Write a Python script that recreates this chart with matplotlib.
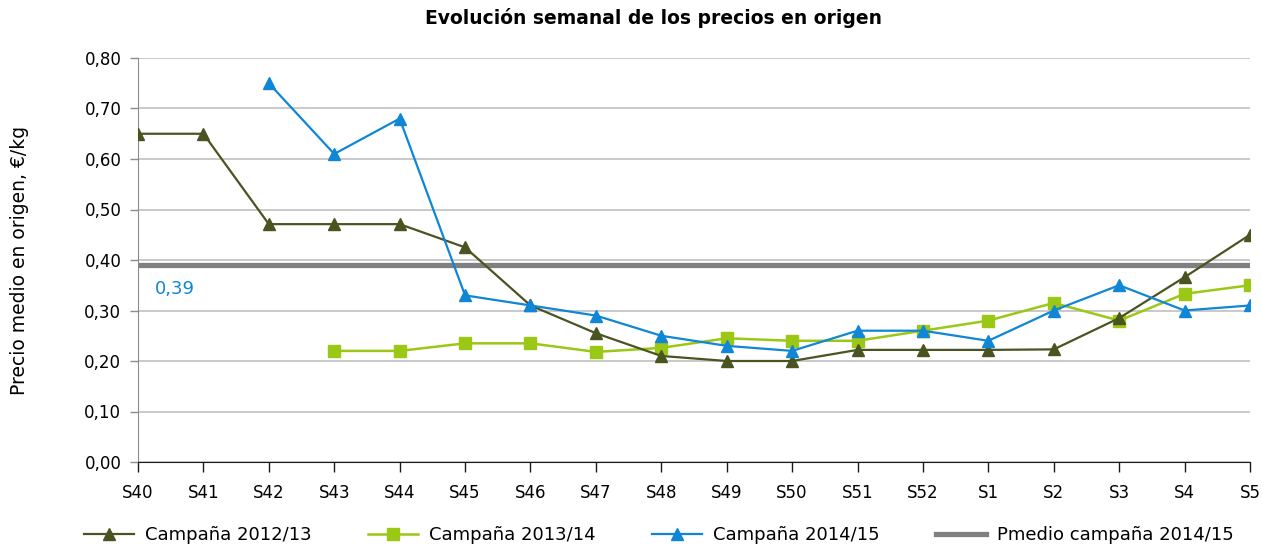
import matplotlib
matplotlib.use("Agg")
import matplotlib.pyplot as plt
import numpy as np

weeks = ["S40", "S41", "S42", "S43", "S44", "S45", "S46", "S47", "S48", "S49",
         "S50", "S51", "S52", "S1", "S2", "S3", "S4", "S5"]
c2012 = [0.65, 0.65, 0.471, 0.471, 0.471, 0.425, 0.31, 0.255, 0.21, 0.20,
         0.20, 0.222, 0.222, 0.222, 0.223, 0.285, 0.366, 0.45]
c2013 = [None, None, None, 0.22, 0.22, 0.235, 0.235, 0.218, 0.226, 0.245,
         0.24, 0.24, 0.26, 0.28, 0.315, 0.28, 0.333, 0.35]
c2014 = [None, None, 0.75, 0.61, 0.68, 0.33, 0.31, 0.29, 0.25, 0.23,
         0.22, 0.26, 0.26, 0.24, 0.30, 0.35, 0.30, 0.31]
mean_2014 = 0.39
mean_label = "0,39"

OLIVE, LIME, BLUE, GREY = "#4a5421", "#9bc814", "#0f86d6", "#808080"

plt.rcParams.update({"font.family": ["DejaVu Sans"], "font.size": 12})

fig = plt.figure(figsize=(12.62, 5.47), dpi=100)
ax = fig.add_axes([138 / 1262, 85 / 547, 1112 / 1262, 404 / 547])

x = np.arange(len(weeks))


def arr(v):
    return np.array([np.nan if a is None else a for a in v], dtype=float)


ax.plot(x, arr(c2012), color=OLIVE, lw=1.6, marker="^", ms=9, zorder=4,
        label="Campaña 2012/13")
ax.plot(x, arr(c2013), color=LIME, lw=1.8, marker="s", ms=9, zorder=3,
        label="Campaña 2013/14")
ax.plot(x, arr(c2014), color=BLUE, lw=1.6, marker="^", ms=9, zorder=5,
        label="Campaña 2014/15")
ax.plot(x, np.full(len(weeks), mean_2014), color=GREY, lw=3.8, zorder=2,
        label="Pmedio campaña 2014/15")
ax.text(0.26, 0.343, mean_label, color=BLUE, fontsize=13, va="center", ha="left")

ax.set_xlim(0, len(weeks) - 1)
ax.set_ylim(0, 0.8)
ax.set_xticks(x)
ax.set_xticklabels(weeks)
ax.set_yticks(np.arange(0, 0.81, 0.1))
ax.set_yticklabels([f"{v:.2f}".replace(".", ",") for v in np.arange(0, 0.81, 0.1)])
ax.yaxis.grid(True, color="#c0c0c0", lw=1.2, zorder=0)
ax.set_axisbelow(True)
for s in ("top", "right"):
    ax.spines[s].set_visible(False)
ax.spines["left"].set_color("#8c8c8c")
ax.spines["bottom"].set_color("#1a1a1a")
ax.tick_params(axis="x", length=7, width=1, color="#1a1a1a", pad=9, labelsize=12)
ax.tick_params(axis="y", length=6, width=1, color="#8c8c8c", pad=6, labelsize=12)
ax.set_ylabel("Precio medio en origen, €/kg", fontsize=13.5, labelpad=40)

fig.suptitle("Evolución semanal de los precios en origen", x=0.518, y=0.985,
             fontsize=13.5, fontweight="bold")
fig.legend(loc="lower center", bbox_to_anchor=(0.522, -0.024), ncol=4, frameon=False,
           fontsize=13, handlelength=2.8, columnspacing=3.1, handletextpad=0.6)

fig.savefig("out.png", dpi=100)
